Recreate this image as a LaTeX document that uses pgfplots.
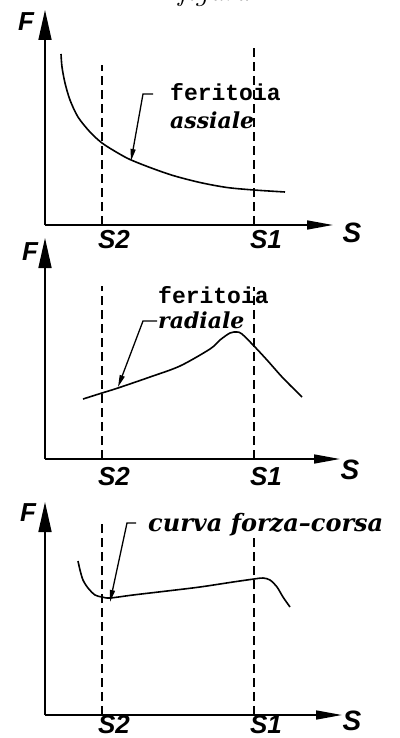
\documentclass[border=0pt]{standalone}
\usepackage{fontspec}
\usepackage{pgfplots}
\pgfplotsset{compat=1.18}
\usetikzlibrary{arrows.meta}
\newfontfamily\cad{Liberation Sans}
\newfontfamily\mono{Liberation Mono}
\newfontfamily\dser{DejaVu Serif}

\pgfplotsset{
  cadaxis/.style={
    scale only axis, axis lines=left, anchor=south west,
    xmin=0, ymin=0, clip=false,
    ytick=\empty, xtick={57,209}, xticklabels={S2,S1},
    major tick length=0pt,
    axis line style={line width=1.6pt},
    x axis line style={-{Triangle[length=26pt,width=9pt]}},
    y axis line style={-{Triangle[length=30pt,width=13pt]}},
    xticklabel style={font=\cad\bfseries\itshape\fontsize{26}{26}\selectfont, anchor=center, xshift=12pt, inner sep=0pt},
    xlabel={S}, ylabel={F},
  },
  curve/.style={line width=1.6pt, smooth, no marks, black},
  guide/.style={line width=1.4pt, dash pattern=on 9pt off 5pt, no marks, black},
  leader/.style={line width=1.3pt, no marks, black, -{Triangle[length=12pt,width=5pt]}},
}
\newcommand{\labfont}{\cad\bfseries\itshape}
\newcommand{\biti}{\dser\bfseries\itshape\fontsize{22}{22}\selectfont}
\newcommand{\monof}{\mono\bfseries\fontsize{23}{23}\selectfont}

\begin{document}
\begin{tikzpicture}
\useasboundingbox (0,0) rectangle (399pt,-738pt);
\node[anchor=base, font=\itshape\fontsize{30}{30}\selectfont] at (214pt,-1pt) {figura};

% ---------- plot 1 ----------
\begin{axis}[cadaxis, at={(45pt,-225pt)},
  width=288pt, height=215pt, xmax=288, ymax=215,
  xticklabel style={yshift=-15pt},
  every axis x label/.style={at={(axis cs:307,-8)}, anchor=center, font=\labfont\fontsize{28}{28}\selectfont},
  every axis y label/.style={at={(axis cs:-19,203)}, anchor=center, font=\labfont\fontsize{26}{26}\selectfont},
]
\addplot[guide] coordinates {(57,0) (57,160)};
\addplot[guide] coordinates {(209,0) (209,179)};
\addplot[curve] coordinates {
(16,171) (17,158) (20,142) (25,125) (33,108) (45,93) (57,82) (72,72.5)
(85,65.5) (105,57.5) (128,49.5) (155,42.5) (182,37.5) (209,35) (240,33)};
\addplot[leader] coordinates {(108,131) (98,131) (86,64)};
\node[anchor=west, font=\monof, inner sep=0pt] at (axis cs:125,133) {feritoia};
\node[anchor=west, font=\biti, inner sep=0pt] at (axis cs:125,105) {assiale};
\end{axis}

% ---------- plot 2 ----------
\begin{axis}[cadaxis, at={(45pt,-459pt)},
  width=295pt, height=221pt, xmax=295, ymax=221,
  xticklabel style={yshift=-18pt},
  every axis x label/.style={at={(axis cs:305,-11)}, anchor=center, font=\labfont\fontsize{28}{28}\selectfont},
  every axis y label/.style={at={(axis cs:-15,207)}, anchor=center, font=\labfont\fontsize{26}{26}\selectfont},
]
\addplot[guide] coordinates {(57,0) (57,173)};
\addplot[guide] coordinates {(209,0) (209,172)};
\addplot[curve] coordinates {
(38,60) (57,66) (73,71) (105,82) (135,93) (165,110) (175,119) (185,126)
(192,127) (197,125) (209,113) (222,99) (238,81) (257,62)};
\addplot[leader] coordinates {(112,138) (98,138) (73,72)};
\node[anchor=west, font=\monof, inner sep=0pt] at (axis cs:113,164) {feritoia};
\node[anchor=west, font=\biti, inner sep=0pt] at (axis cs:113,139) {radiale};
\end{axis}

% ---------- plot 3 ----------
\begin{axis}[cadaxis, at={(45pt,-715pt)},
  width=297pt, height=213pt, xmax=297, ymax=213,
  xticklabel style={yshift=-10pt},
  every axis x label/.style={at={(axis cs:307,-6)}, anchor=center, font=\labfont\fontsize{28}{28}\selectfont},
  every axis y label/.style={at={(axis cs:-17,202)}, anchor=center, font=\labfont\fontsize{26}{26}\selectfont},
]
\addplot[guide] coordinates {(57,0) (57,193)};
\addplot[guide] coordinates {(209,0) (209,178)};
\addplot[curve] coordinates {
(33,154) (35,145) (38,135) (43,127) (50,120) (57,118) (65,117) (88,120)
(122,124) (155,128) (188,133) (209,136) (218,137) (225,135) (232,128)
(238,118) (245,108)};
\addplot[leader] coordinates {(91,192) (82,192) (65,113)};
\node[anchor=west, font=\dser\bfseries\itshape\fontsize{24}{24}\selectfont, inner sep=0pt] at (axis cs:103,190) {curva forza–corsa};
\end{axis}
\end{tikzpicture}
\end{document}
